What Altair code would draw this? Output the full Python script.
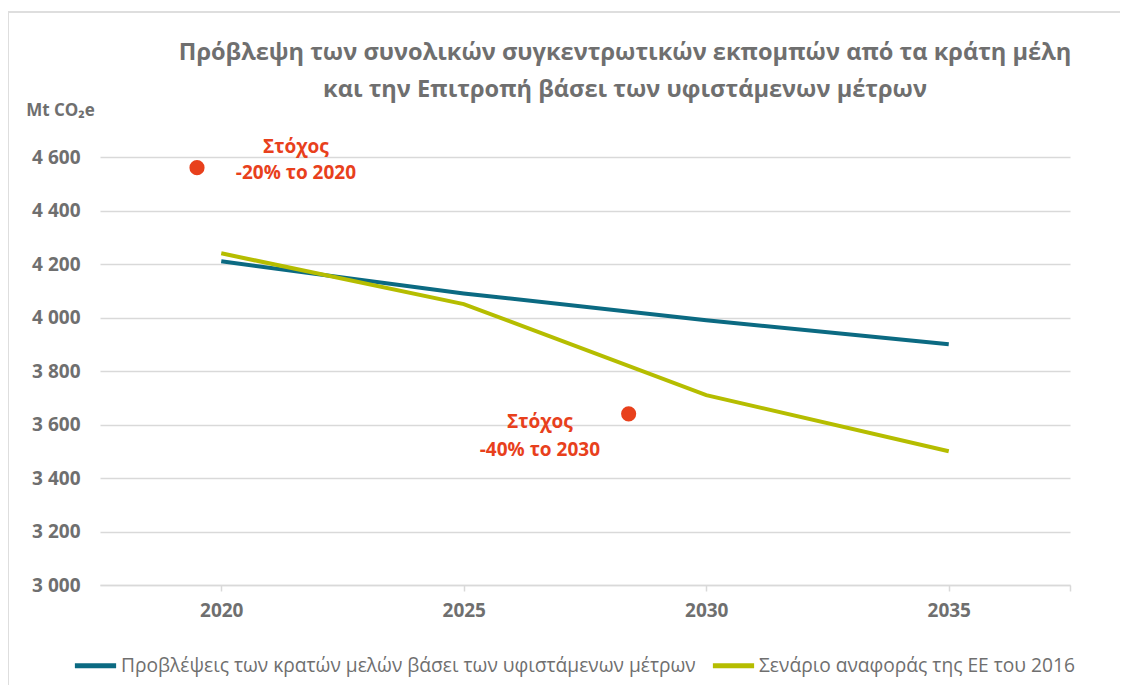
import altair as alt
import pandas as pd

years = [2020, 2025, 2030, 2035]
series_ms = [4210, 4090, 3990, 3900]
series_eu = [4240, 4050, 3710, 3500]
name_ms = "Προβλέψεις των κρατών μελών βάσει των υφιστάμενων μέτρων"
name_eu = "Σενάριο αναφοράς της ΕΕ του 2016"

target_x = [2019.5, 2028.4]
target_y = [4560, 3640]

ann_x = [2021.54, 2021.54, 2026.57, 2026.57]
ann_y = [4638, 4540, 3608, 3506]
ann_text = ["Στόχος", "-20% το 2020", "Στόχος", "-40% το 2030"]

title_text = ("Πρόβλεψη των συνολικών συγκεντρωτικών εκπομπών από τα κράτη μέλη\n"
              "και την Επιτροπή βάσει των υφιστάμενων μέτρων")

GRAY = "#6f6f6f"
FONT = "Open Sans"

rows = []
for y, v in zip(years, series_ms):
    rows.append({"year": y, "value": v, "series": name_ms})
for y, v in zip(years, series_eu):
    rows.append({"year": y, "value": v, "series": name_eu})
df = pd.DataFrame(rows)
tgt = pd.DataFrame({"x": target_x, "y": target_y})
ann = pd.DataFrame({"x": ann_x, "y": ann_y, "t": ann_text})
ttl = pd.DataFrame({"t": [title_text]})

xscale = alt.Scale(domain=[2017.5, 2037.5], nice=False, zero=False)
yscale = alt.Scale(domain=[3000, 4600], nice=False, zero=False)

lines = alt.Chart(df).mark_line(strokeWidth=4).encode(
    x=alt.X("year:Q", scale=xscale, axis=alt.Axis(
        values=[2020, 2025, 2030, 2035, 2037.5],
        labelExpr="datum.value > 2036 ? '' : datum.label",
        format="d", grid=False, domainColor="#d9d9d9", domainWidth=1.5,
        tickColor="#d9d9d9", tickSize=6, tickWidth=1.5,
        labelFont=FONT, labelFontSize=19, labelFontWeight="bold",
        labelColor=GRAY, labelPadding=10, title=None)),
    y=alt.Y("value:Q", scale=yscale, axis=alt.Axis(
        values=[3000, 3200, 3400, 3600, 3800, 4000, 4200, 4400, 4600],
        labelExpr="replace(format(datum.value, ','), ',', ' ')",
        domain=False, ticks=False, gridColor="#d9d9d9", gridWidth=1.5,
        labelFont=FONT, labelFontSize=19, labelFontWeight="bold",
        labelColor=GRAY, labelPadding=20,
        title="Mt CO₂e", titleAngle=0, titleX=-40, titleY=-47,
        titleAlign="center", titleBaseline="middle",
        titleFont=FONT, titleFontSize=17, titleFontWeight="bold",
        titleColor=GRAY)),
    color=alt.Color("series:N", scale=alt.Scale(
        domain=[name_ms, name_eu], range=["#0b6a82", "#b5bd00"]),
        legend=alt.Legend(title=None, orient="none", direction="horizontal",
                          legendX=-28, legendY=485,
                          symbolType="stroke", symbolStrokeWidth=5,
                          symbolSize=1700, labelFont=FONT, labelFontSize=19.2,
                          labelColor=GRAY, columnPadding=6, labelOffset=2,
                          labelLimit=0)),
)

dots = alt.Chart(tgt).mark_circle(size=230, color="#e8401c", opacity=1).encode(
    x=alt.X("x:Q", scale=xscale), y=alt.Y("y:Q", scale=yscale))

texts = alt.Chart(ann).mark_text(font=FONT, fontSize=19, fontWeight="bold",
                                 color="#e8401c", baseline="middle").encode(
    x=alt.X("x:Q", scale=xscale), y=alt.Y("y:Q", scale=yscale), text="t:N")

title_mark = alt.Chart(ttl).mark_text(
    font=FONT, fontSize=23.6, fontWeight="bold", color=GRAY,
    align="center", baseline="middle", lineBreak="\n", lineHeight=37,
).encode(text="t:N", x=alt.value(525), y=alt.value(-104))

frame_top = alt.Chart(df).mark_rule(color="#dedede", strokeWidth=1.5).encode(
    x=alt.value(-92), x2=alt.value(1100), y=alt.value(-145))
frame_left = alt.Chart(df).mark_rule(color="#dedede", strokeWidth=1.5).encode(
    x=alt.value(-92), y=alt.value(-145), y2=alt.value(600))

chart = alt.layer(frame_top, frame_left, lines, dots, texts, title_mark).properties(
    width=970, height=428,
    autosize=alt.AutoSizeParams(type="none"),
    padding={"left": 92, "top": 149, "right": 50, "bottom": 100},
    background="white",
).configure_view(stroke=None)

chart.save("out.html", embed_options={"renderer": "svg", "actions": False})
